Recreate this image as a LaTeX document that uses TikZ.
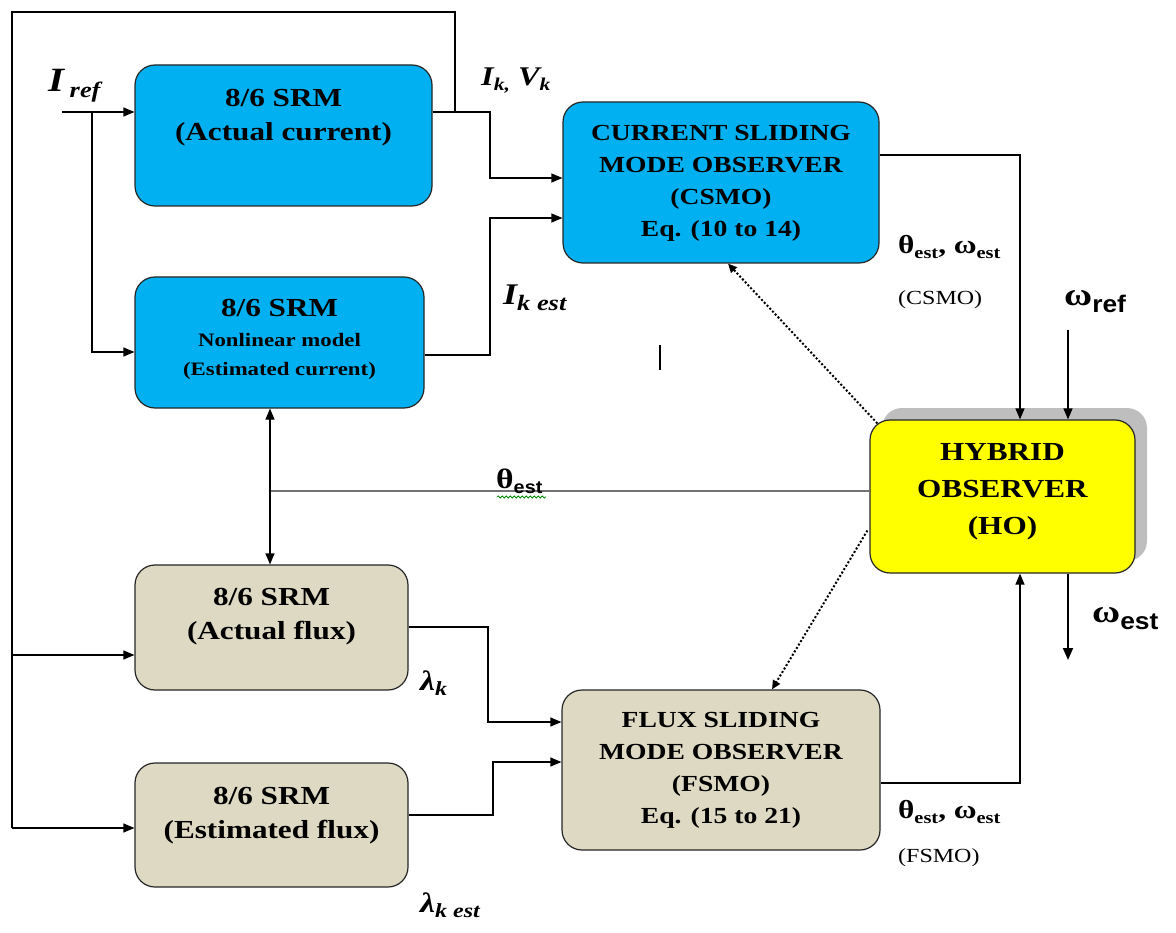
\documentclass[tikz,border=0pt]{standalone}
\usepackage{fontspec}
\setmainfont[FakeStretch=1.2]{Liberation Serif}
\newfontfamily\sansf[FakeStretch=1.1]{Liberation Sans}
\usetikzlibrary{arrows.meta,decorations.pathmorphing,calc}
\definecolor{skyb}{RGB}{0,176,240}
\definecolor{tanc}{RGB}{221,217,195}
\definecolor{hoy}{RGB}{255,255,0}
\definecolor{shad}{RGB}{190,190,190}
\begin{document}
\begin{tikzpicture}[x=1pt,y=-1pt,
  every node/.style={inner sep=0pt},
  boxst/.style={draw=black!85, line width=1.2pt, rounded corners=20pt},
  bluebox/.style={boxst, fill=skyb},
  tanbox/.style={boxst, fill=tanc},
  yelbox/.style={boxst, fill=hoy},
  txt/.style={font=\bfseries\fontsize{26}{34}\selectfont, align=center},
  otxt/.style={font=\bfseries\fontsize{23}{32}\selectfont, align=center},
  wire/.style={line width=1.2pt},
  arr/.style={wire, -{Triangle[length=11pt,width=9pt]}},
  dotarr/.style={dotted, line width=2pt, -{Triangle[length=9pt,width=8pt]}},
]
\useasboundingbox (0,0) rectangle (1176,933);
% boxes
\node[bluebox, minimum width=297pt, minimum height=141pt] (A) at (283.5,135.5) {};
\node[txt] (At) at (283.5,118) {8/6 SRM\\(Actual current)};
\node[bluebox, minimum width=289pt, minimum height=131pt] (B) at (279.5,342.5) {};
\node[align=center, font=\bfseries\fontsize{19}{29}\selectfont] (Bt) at (279.5,339) {{\fontsize{26}{29}\selectfont 8/6 SRM}\\[1pt]Nonlinear model\\(Estimated current)};
\node[bluebox, minimum width=316pt, minimum height=161pt] (C) at (721,182.5) {};
\node[otxt] (Ct) at (721,183) {CURRENT SLIDING\\MODE OBSERVER\\(CSMO)\\Eq. (10 to 14)};
\fill[shad, rounded corners=20pt] (882,408) rectangle (1147,561);
\node[yelbox, minimum width=265pt, minimum height=153pt] (HO) at (1002.5,496.5) {};
\node[txt, font=\bfseries\fontsize{26}{37}\selectfont] (HOt) at (1002.5,492) {HYBRID\\OBSERVER\\(HO)};
\node[tanbox, minimum width=273pt, minimum height=125pt] (D) at (271.5,627.5) {};
\node[txt] (Dt) at (271.5,617) {8/6 SRM\\(Actual flux)};
\node[tanbox, minimum width=273pt, minimum height=124pt] (E) at (271.5,825) {};
\node[txt] (Et) at (271.5,816) {8/6 SRM\\(Estimated flux)};
\node[tanbox, minimum width=318pt, minimum height=160pt] (F) at (721,770) {};
\node[otxt] (Ft) at (721,770) {FLUX SLIDING\\MODE OBSERVER\\(FSMO)\\Eq. (15 to 21)};
% coordinates
\coordinate (Iin) at (62,112);
\coordinate (Ib) at (92,112);
\coordinate (Bin) at (92,352);
\coordinate (Lp) at (455,112);
\coordinate (Ltop) at (12,12);
\coordinate (Lbot) at (12,828);
\coordinate (Ld) at (12,655);
\coordinate (Ac) at (490,112);
\coordinate (Ca) at (490,178);
\coordinate (Bo) at (490,355);
\coordinate (Cb) at (490,218);
\coordinate (Co) at (1020,155);
\coordinate (Wr) at (1068,330);
\coordinate (Wo) at (1068,660);
\coordinate (Th) at (270,491);
\coordinate (Do) at (488,627);
\coordinate (Fd) at (488,722);
\coordinate (Eo) at (493,815);
\coordinate (Fe) at (493,762);
\coordinate (Fo) at (1020,783);
% connectors
\draw[arr] (Iin) -- (Iin -| A.west);
\draw[arr] (Ib) -- (Bin) -- (Bin -| B.west);
\draw[wire] (Lp) |- (Ltop) -- (Lbot);
\draw[arr] (Lbot) -- (Lbot -| E.west);
\draw[arr] (Ld) -- (Ld -| D.west);
\draw[arr] (Iin -| A.east) -- (Ac) -- (Ca) -- (Ca -| C.west);
\draw[arr] (Bo -| B.east) -- (Bo) -- (Cb) -- (Cb -| C.west);
\draw[arr] (Co -| C.east) -- (Co) -- (Co |- HO.north);
\draw[arr] (Wr) -- (Wr |- HO.north);
\draw[wire, line width=2pt, -{Triangle[length=12pt,width=10pt]}] (Wo |- HO.south) -- (Wo);
\draw[arr] (Fo -| F.east) -- (Fo) -- (Fo |- HO.south);
\draw[arr] (Do -| D.east) -- (Do) -- (Fd) -- (Fd -| F.west);
\draw[arr] (Eo -| E.east) -- (Eo) -- (Fe) -- (Fe -| F.west);
\draw[line width=2pt, black!55] (Th -| HO.west) -- (Th);
\draw[wire, {Triangle[length=11pt,width=9pt]}-{Triangle[length=11pt,width=9pt]}] (Th |- B.south) -- (Th |- D.north);
\draw[dotarr] ($(HO.north west)+(8,4)$) -- ($(C.south)+(7,0)$);
\draw[dotarr] ($(HO.west)+(-2,34)$) -- ($(F.north)+(51,0)$);
% labels
\node[anchor=base west] (Iref) at (48,92) {\bfseries\itshape\fontsize{34}{34}\selectfont I\,\raisebox{-6pt}{\fontsize{22}{22}\selectfont ref}};
\node[anchor=base west] (IkVk) at (481,86) {\bfseries\itshape\fontsize{27}{27}\selectfont I\raisebox{-5pt}{\fontsize{18}{18}\selectfont k,} V\raisebox{-5pt}{\fontsize{18}{18}\selectfont k}};
\node[anchor=base west] (Ikest) at (503,305) {\bfseries\itshape\fontsize{30}{30}\selectfont I\raisebox{-6pt}{\fontsize{22}{22}\selectfont k est}};
\node[anchor=base west] (l1) at (898,254) {\bfseries\fontsize{26}{26}\selectfont θ\raisebox{-5pt}{\fontsize{17}{17}\selectfont est}, ω\raisebox{-5pt}{\fontsize{17}{17}\selectfont est}};
\node[anchor=base west] (l2) at (898,305) {\fontsize{20}{20}\selectfont (CSMO)};
\node[anchor=base west] (wref) at (1064,306) {\bfseries\fontsize{32}{32}\selectfont ω\raisebox{-7pt}{\sansf\fontsize{24}{24}\selectfont ref}};
\node[anchor=base west] (west) at (1092,622) {\bfseries\fontsize{32}{32}\selectfont ω\raisebox{-7pt}{\sansf\fontsize{24}{24}\selectfont est}};
\node[anchor=base west] (thc) at (496,488) {\bfseries\fontsize{28}{28}\selectfont θ\raisebox{-5pt}{\sansf\fontsize{18}{18}\selectfont est}};
\draw[green!55!black, line width=0.8pt, decorate, decoration={snake, amplitude=1pt, segment length=4pt}] (497,497) -- (546,497);
\draw[line width=2.5pt] (660,345) -- (660,370);
\node[anchor=base west] (lk) at (420,690) {\bfseries\itshape\fontsize{28}{28}\selectfont λ\raisebox{-5pt}{\fontsize{20}{20}\selectfont k}};
\node[anchor=base west] (lkest) at (420,912) {\bfseries\itshape\fontsize{28}{28}\selectfont λ\raisebox{-5pt}{\fontsize{20}{20}\selectfont k est}};
\node[anchor=base west] (l3) at (898,818) {\bfseries\fontsize{26}{26}\selectfont θ\raisebox{-5pt}{\fontsize{17}{17}\selectfont est}, ω\raisebox{-5pt}{\fontsize{17}{17}\selectfont est}};
\node[anchor=base west] (l4) at (898,862) {\fontsize{20}{20}\selectfont (FSMO)};
\end{tikzpicture}
\end{document}
